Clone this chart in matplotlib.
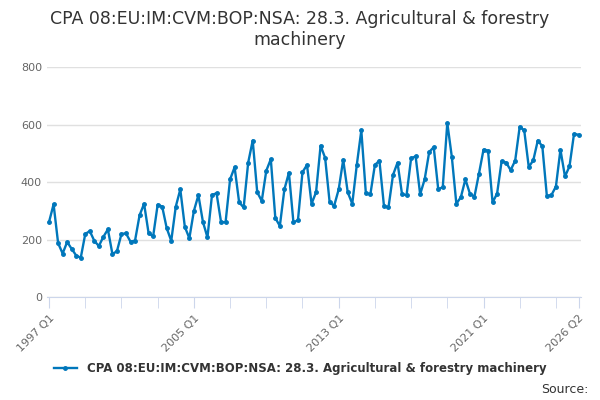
import numpy as np
import matplotlib.pyplot as plt

values = [
    262, 323, 188, 152, 192, 168, 145, 137, 220, 230, 196, 178,
    210, 236, 150, 160, 220, 222, 193, 197, 285, 325, 222, 212,
    322, 315, 240, 196, 315, 375, 245, 205, 300, 355, 262, 208,
    355, 362, 262, 260, 410, 452, 330, 312, 468, 545, 365, 335,
    440, 480, 275, 248, 375, 433, 260, 268, 435, 460, 325, 365,
    527, 485, 330, 318, 375, 478, 365, 325, 460, 580, 362, 358,
    460, 475, 318, 312, 425, 468, 358, 355, 483, 490, 358, 410,
    505, 522, 375, 383, 606, 488, 325, 348, 410, 360, 350, 430,
    513, 510, 330, 360, 473, 468, 442, 475, 593, 580, 453, 476,
    545, 525, 352, 355, 385, 513, 420, 455, 568, 565,
]
labels = [f"{1997 + i // 4} Q{i % 4 + 1}" for i in range(len(values))]
tick_labels = ["1997 Q1", "2005 Q1", "2013 Q1", "2021 Q1", "2026 Q2"]

color = "#0077bb"
fig = plt.figure(figsize=(6, 4), dpi=100)
ax = fig.add_axes([0.078, 0.257, 0.89, 0.575])
x = np.arange(len(values))
ax.plot(x, values, color=color, lw=1.7, marker="o", ms=2.5,
        label="CPA 08:EU:IM:CVM:BOP:NSA: 28.3. Agricultural & forestry machinery")

ax.set_ylim(0, 800)
ax.set_yticks([0, 200, 400, 600, 800])
ax.set_xlim(-0.5, len(values) - 0.5)
ax.grid(axis="y", color="#e0e0e0", lw=1)
ax.set_axisbelow(True)
for s in ["top", "right", "left"]:
    ax.spines[s].set_visible(False)
ax.spines["bottom"].set_color("#ccd6eb")
ax.tick_params(axis="y", length=0, labelsize=8, colors="#666666")
pos = [labels.index(t) for t in tick_labels]
ax.set_xticks(pos)
ax.set_xticklabels(tick_labels, rotation=45, ha="right", rotation_mode="anchor",
                   fontsize=8, color="#666666")
ax.set_xticks(np.arange(0, len(values), 8), minor=True)
ax.tick_params(axis="x", which="both", length=8, color="#ccd6eb")

fig.suptitle("CPA 08:EU:IM:CVM:BOP:NSA: 28.3. Agricultural & forestry\nmachinery",
             fontsize=12.5, color="#333333", y=0.975)
fig.legend(loc="lower center", bbox_to_anchor=(0.5, 0.035), frameon=False,
           prop={"size": 8.5, "weight": "bold"}, labelcolor="#333333", handlelength=2)
fig.text(0.98, 0.01, "Source:", ha="right", va="bottom", fontsize=9, color="#333333")
fig.savefig("out.png")
